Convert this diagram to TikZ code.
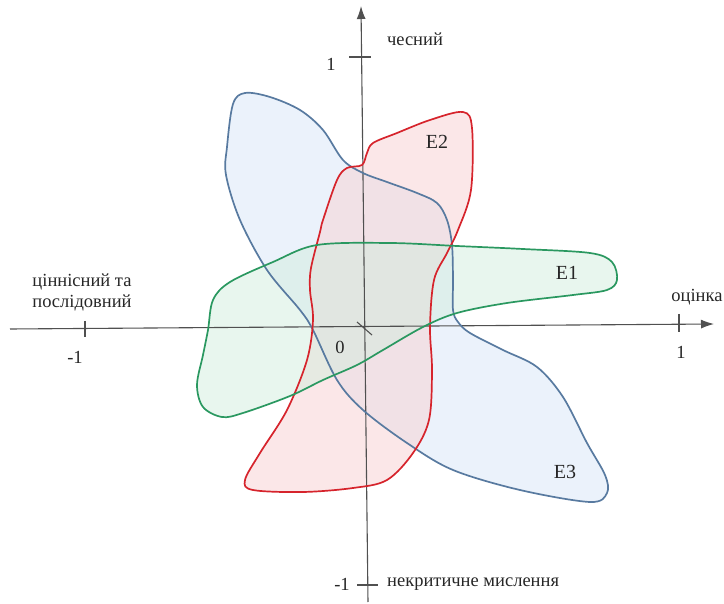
\documentclass[tikz,border=0pt]{standalone}
\usepackage{fontspec}
\setmainfont{Liberation Serif}
\usepackage{tikz}
\usetikzlibrary{arrows.meta}
\definecolor{axisgray}{RGB}{80,80,80}
\definecolor{bluel}{RGB}{88,122,160}
\definecolor{bluef}{RGB}{219,232,247}
\definecolor{redl}{RGB}{214,36,44}
\definecolor{redf}{RGB}{247,208,210}
\definecolor{greenl}{RGB}{42,152,96}
\definecolor{greenf}{RGB}{210,237,221}

\begin{document}
\begin{tikzpicture}[x=1pt,y=-1pt,>={Latex[length=13pt,width=9pt]},
  every node/.style={font=\fontsize{18.5}{21}\selectfont,text=black!85,align=center,inner sep=0pt},
  axis/.style={axisgray,line width=1.1pt},
  area/.style={line width=1.7pt,line join=round}]
\useasboundingbox (0,0) rectangle (724,604);
% the three areas
\path[save path=\areaEthree] plot[smooth cycle,tension=.55] coordinates {(245,93) (270,97) (300,110) (323,130) (343,160) (363,173) (387,182) (417,193) (437,203) (447,220) (452,245) (453,280) (453,310) (458,322) (470,333) (503,350) (537,367) (563,397) (587,443) (605,475) (607,493) (590,502) (520,490) (453,470) (407,443) (363,410) (337,380) (313,330) (300,310) (267,270) (240,220) (226,175) (227,147) (233,104)};
\path[save path=\areaEtwo] plot[smooth cycle,tension=.55] coordinates {(463,112) (472,128) (471,190) (458,230) (447,253) (434,280) (430,327) (432,370) (429,420) (413,453) (387,480) (353,488) (303,492) (253,490) (245,480) (260,453) (287,410) (307,360) (313,320) (310,290) (311,268) (320,232) (323,220) (337,180) (347,168) (362,165) (367,153) (373,143) (397,133) (430,120)};
\path[save path=\areaEone] plot[smooth cycle,tension=.55] coordinates {(317,245) (390,243) (457,246) (523,249) (590,253) (612,262) (617,280) (607,290) (573,295) (507,303) (457,313) (423,327) (383,350) (357,365) (323,380) (290,396) (243,413) (222,417) (203,407) (197,385) (203,355) (208,330) (213,300) (230,282) (273,262)};
\path[use path=\areaEthree,fill=bluef,fill opacity=.55];
\path[use path=\areaEtwo,fill=redf,fill opacity=.5];
\path[use path=\areaEone,fill=greenf,fill opacity=.5];
% axes
\coordinate (xl) at (10,329);
\coordinate (xr) at (714,324);
\coordinate (yb) at (368,602);
\coordinate (yt) at (361,6);
\draw[axis,->] (xl) -- (xr);
\draw[axis,->] (yb) -- (yt);
\draw[axis] (85,321) -- (85,337);
\draw[axis] (679,314) -- (679,332);
\draw[axis] (349,57) -- (371,57);
\draw[axis] (357,585) -- (378,585);
\draw[axis] (357,322) -- (372,335);
\path[use path=\areaEthree,draw=bluel,area];
\path[use path=\areaEtwo,draw=redl,area];
\path[use path=\areaEone,draw=greenl,area];
% labels
\node (chesnyi) at (415,39) {чесний};
\node (oneY) at (331,64) {1};
\node (minusX) at (75,357) {-1};
\node (cinnisnyi) at (82,292) {ціннісний та\\послідовний};
\node (ocinka) at (697,297) {оцінка};
\node (oneX) at (681,352) {1};
\node (minusY) at (342,584) {-1};
\node[anchor=west] (nekryt) at (387,584) {некритичне мислення};
\node (zero) at (340,347) {0};
\node[font=\fontsize{20}{22}\selectfont] (E1) at (567,273) {E1};
\node[font=\fontsize{20}{22}\selectfont] (E2) at (437,142) {E2};
\node[font=\fontsize{20}{22}\selectfont] (E3) at (565,472) {E3};
\end{tikzpicture}
\end{document}
